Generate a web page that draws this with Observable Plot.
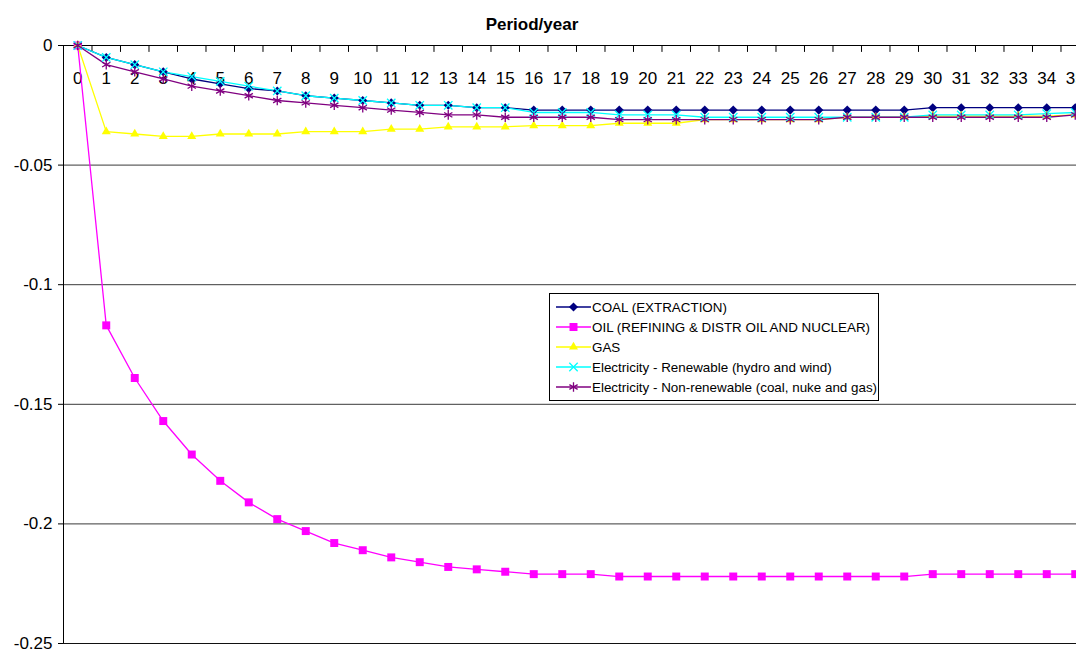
<!DOCTYPE html>
<html><head><meta charset="utf-8">
<script src="https://cdn.jsdelivr.net/npm/d3@7"></script>
<script src="https://cdn.jsdelivr.net/npm/@observablehq/plot@0.6"></script>
<style>
body{margin:0;background:#fff;font-family:"Liberation Sans",Arial,sans-serif;}
#wrap{position:relative;width:1076px;height:650px;overflow:hidden;}
#title{height:36px;box-sizing:border-box;padding-top:16px;line-height:17px;font-size:17px;font-weight:bold;width:1064px;text-align:center;color:#000;}
#legend{position:absolute;left:549px;top:293px;width:330px;height:108px;box-sizing:border-box;border:1px solid #000;background:#fff;font-size:13.4px;color:#000;}
.row{position:absolute;left:5px;height:20px;display:flex;align-items:center;white-space:nowrap;}
.row svg{display:block;margin-right:1px;}
</style></head><body>
<div id="wrap"><div id="title">Period/year</div><div id="chart"></div><div id="legend"></div></div>
<script>
const years = [0,1,2,3,4,5,6,7,8,9,10,11,12,13,14,15,16,17,18,19,20,21,22,23,24,25,26,27,28,29,30,31,32,33,34,35];
const coal = [0,-0.005,-0.008,-0.011,-0.014,-0.016,-0.018,-0.019,-0.021,-0.022,-0.023,-0.024,-0.025,-0.025,-0.026,-0.026,-0.027,-0.027,-0.027,-0.027,-0.027,-0.027,-0.027,-0.027,-0.027,-0.027,-0.027,-0.027,-0.027,-0.027,-0.026,-0.026,-0.026,-0.026,-0.026,-0.026];
const oil = [0,-0.117,-0.139,-0.157,-0.171,-0.182,-0.191,-0.198,-0.203,-0.208,-0.211,-0.214,-0.216,-0.218,-0.219,-0.220,-0.221,-0.221,-0.221,-0.222,-0.222,-0.222,-0.222,-0.222,-0.222,-0.222,-0.222,-0.222,-0.222,-0.222,-0.221,-0.221,-0.221,-0.221,-0.221,-0.221];
const gas = [0,-0.036,-0.037,-0.038,-0.038,-0.037,-0.037,-0.037,-0.036,-0.036,-0.036,-0.035,-0.035,-0.034,-0.034,-0.034,-0.0335,-0.0335,-0.0335,-0.0325,-0.0325,-0.0325,-0.031,-0.031,-0.031,-0.031,-0.031,-0.030,-0.030,-0.030,-0.0295,-0.0295,-0.0295,-0.0295,-0.0295,-0.029];
const renewable = [0,-0.005,-0.008,-0.011,-0.013,-0.015,-0.017,-0.019,-0.021,-0.022,-0.023,-0.024,-0.025,-0.025,-0.026,-0.026,-0.028,-0.028,-0.028,-0.029,-0.029,-0.029,-0.030,-0.030,-0.030,-0.030,-0.030,-0.030,-0.030,-0.030,-0.029,-0.029,-0.029,-0.029,-0.0285,-0.028];
const nonRenewable = [0,-0.008,-0.011,-0.014,-0.017,-0.019,-0.021,-0.023,-0.024,-0.025,-0.026,-0.027,-0.028,-0.029,-0.029,-0.030,-0.030,-0.030,-0.030,-0.031,-0.031,-0.031,-0.031,-0.031,-0.031,-0.031,-0.031,-0.030,-0.030,-0.030,-0.030,-0.030,-0.030,-0.030,-0.030,-0.029];

const seriesNames = ["COAL (EXTRACTION)","OIL (REFINING & DISTR OIL AND NUCLEAR)","GAS","Electricity - Renewable (hydro and wind)","Electricity - Non-renewable (coal, nuke and gas)"];
const seriesValues = [coal, oil, gas, renewable, nonRenewable];
const seriesColors = ["#000080","#FF00FF","#FFFF00","#00FFFF","#800080"];
const seriesSymbols = ["diamond2","square","triangle2","times","asterisk"];
const seriesFilled = [true,true,true,false,false];
const seriesR = [4.1,4.5,4.3,3.9,4.5];
const yTicks = [0,-0.05,-0.1,-0.15,-0.2,-0.25];
const yTickLabels = ["0","-0.05","-0.1","-0.15","-0.2","-0.25"];

const series = seriesNames.map((name, s) => years.map((year, i) => ({name, year, value: seriesValues[s][i]})));
const bounds = years.map(d => d - 0.5).concat([years[years.length - 1] + 0.5]);
const tickShape = {draw(context, l) { context.moveTo(0, 0); context.lineTo(0, -l); }};

const marks = [
  Plot.ruleY(yTicks.slice(1, -1), {stroke: "#3a3a3a", strokeWidth: 1}),
  Plot.ruleY(yTicks.slice(-1), {stroke: "#111", strokeWidth: 1}),
  Plot.ruleY([0], {stroke: "#000", strokeWidth: 1}),
  Plot.ruleX([-0.5], {stroke: "#000", strokeWidth: 1}),
  Plot.axisY({ticks: yTicks, tickFormat: d => yTickLabels[yTicks.indexOf(d)], tickSize: 5, tickPadding: 6, label: null, fontSize: 17}),
  Plot.vector(bounds, {x: d => d, frameAnchor: "top", length: 6, rotate: 180, anchor: "start", shape: tickShape, stroke: "#000", strokeWidth: 1}),
  Plot.text(years, {x: d => d, frameAnchor: "top", dy: 26, text: d => String(d), fontSize: 17})
];
series.forEach((data, s) => {
  marks.push(Plot.line(data, {x: "year", y: "value", stroke: seriesColors[s], strokeWidth: 1.3}));
});
series.forEach((data, s) => {
  const opts = {x: "year", y: "value", symbol: seriesSymbols[s], r: seriesR[s]};
  if (seriesFilled[s]) { opts.fill = seriesColors[s]; opts.stroke = "none"; }
  else { opts.fill = "none"; opts.stroke = seriesColors[s]; opts.strokeWidth = 1.3; }
  marks.push(Plot.dot(data, opts));
});

const chart = Plot.plot({
  width: 1076, height: 614,
  marginTop: 9, marginBottom: 7, marginLeft: 63, marginRight: 0,
  x: {type: "linear", domain: [-0.5, 35.044], axis: null},
  y: {domain: [-0.25, 0]},
  style: {fontFamily: "'Liberation Sans', Arial, sans-serif", fontSize: "17px", color: "#000", background: "#fff"},
  marks
});
document.getElementById("chart").appendChild(chart);

// legend
const legend = d3.select("#legend");
const symbolMap = {diamond2: d3.symbolDiamond2, square: d3.symbolSquare, triangle2: d3.symbolTriangle2, times: d3.symbolTimes, asterisk: d3.symbolAsterisk};
seriesNames.forEach((name, s) => {
  const row = legend.append("div").attr("class", "row").style("top", (3 + 20 * s) + "px");
  const svg = row.append("svg").attr("width", 36).attr("height", 20);
  svg.append("line").attr("x1", 1).attr("x2", 36).attr("y1", 10).attr("y2", 10).attr("stroke", seriesColors[s]).attr("stroke-width", 1.3);
  const path = d3.symbol(symbolMap[seriesSymbols[s]], Math.PI * seriesR[s] * seriesR[s])();
  const p = svg.append("path").attr("d", path).attr("transform", "translate(18.5,10)");
  if (seriesFilled[s]) p.attr("fill", seriesColors[s]);
  else p.attr("fill", "none").attr("stroke", seriesColors[s]).attr("stroke-width", 1.3);
  row.append("span").text(name);
});
</script>
</body></html>
